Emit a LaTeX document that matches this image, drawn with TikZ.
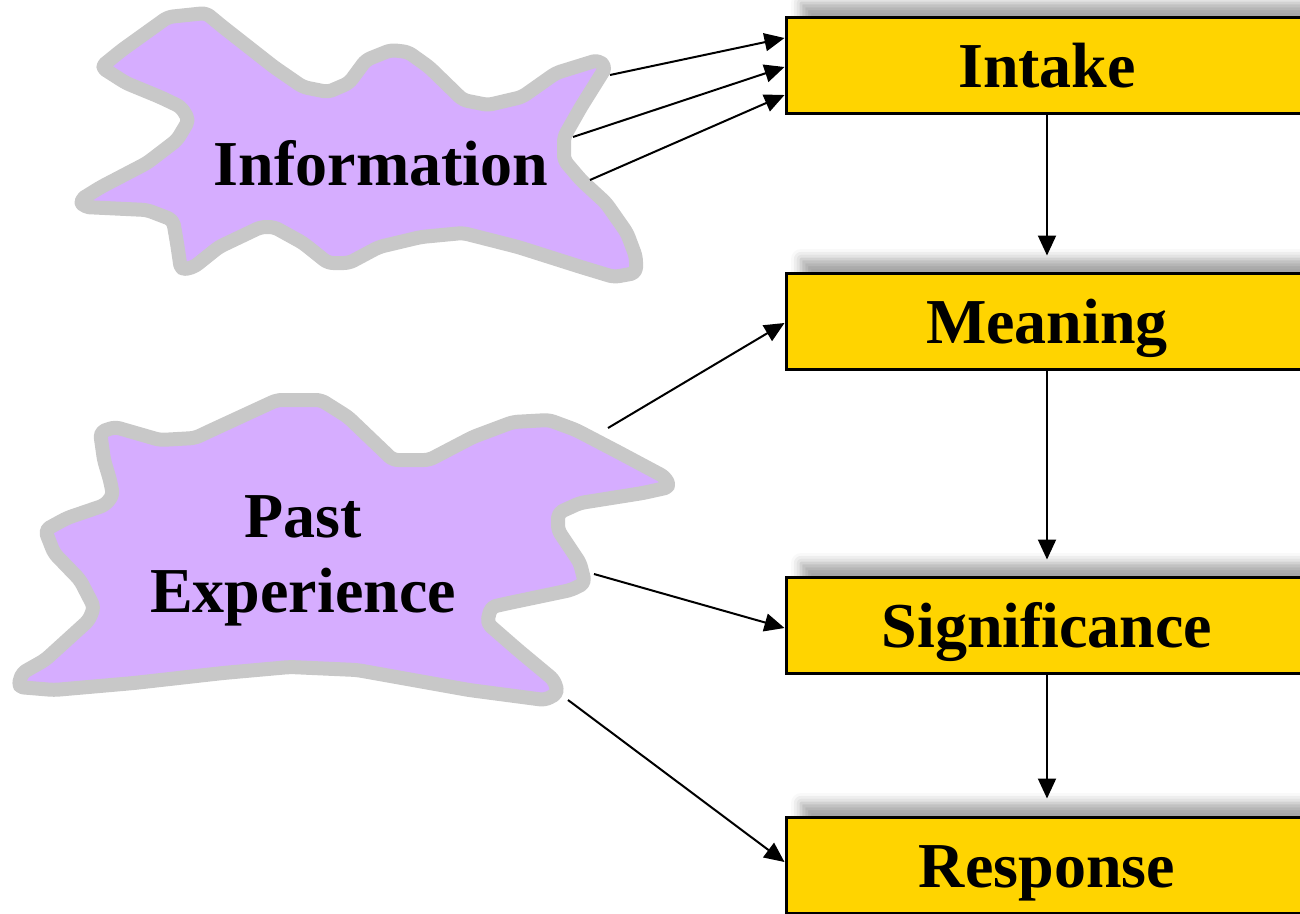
\documentclass[tikz,border=0pt]{standalone}
\usepackage{fontspec}
\setmainfont{Liberation Serif}
\usetikzlibrary{arrows.meta,shadows.blur}
\definecolor{cloudfill}{RGB}{214,173,255}
\definecolor{cloudline}{RGB}{200,200,200}
\definecolor{boxgold}{RGB}{255,212,0}
\tikzset{
  cloud/.style={fill=cloudfill, draw=cloudline, line width=14pt, line join=round, rounded corners=5pt},
  cloudtext/.style={font=\fontsize{64}{75}\selectfont\bfseries, align=center, inner sep=0pt},
  stagebox/.style={draw=black, line width=3pt, fill=boxgold, minimum width=522pt, minimum height=96pt,
    inner sep=0pt, text height=45pt, text depth=0pt, font=\fontsize{64}{75}\selectfont\bfseries,
    blur shadow={shadow xshift=15pt, shadow yshift=14pt, shadow blur radius=10pt, shadow opacity=35}},
  flow/.style={line width=2pt, -{Triangle[length=20pt,width=18pt]}}
}
\begin{document}
\begin{tikzpicture}[x=1pt, y=-1pt]
  \useasboundingbox (0,0) rectangle (1300,913);

  % the four stages
  \node[stagebox] (intake) at (1047,65) {Intake};
  \node[stagebox] (meaning) at (1047,321) {Meaning};
  \node[stagebox] (signif) at (1047,625) {Significance};
  \node[stagebox] (resp) at (1047,865) {Response};

  % information cloud
  \draw[cloud] (101,67) -- (122,50) -- (168,17) -- (206,13) -- (223,27) -- (274,67) -- (303,87)
    -- (328,92) -- (349,83) -- (366,60) -- (391,50) -- (408,52) -- (429,67) -- (463,100)
    -- (488,105) -- (522,97) -- (556,73) -- (598,60) -- (606,67) -- (581,107) -- (564,137)
    -- (564,160) -- (581,180) -- (606,203) -- (627,233) -- (636,257) -- (636,273) -- (614,277)
    -- (581,267) -- (518,247) -- (463,233) -- (421,237) -- (379,247) -- (349,263) -- (328,263)
    -- (303,243) -- (274,227) -- (261,227) -- (219,247) -- (194,267) -- (181,270) -- (177,243)
    -- (173,220) -- (147,210) -- (84,207) -- (80,200) -- (101,187) -- (147,163) -- (177,140)
    -- (189,120) -- (181,107) -- (160,97) -- (126,83) -- cycle;
  \node[cloudtext, anchor=base] (info) at (381,185) {Information};

  % past experience cloud
  \draw[cloud] (100,432) -- (115,427) -- (160,440) -- (195,438) -- (212,430) -- (277,400)
    -- (321,400) -- (348,417) -- (393,460) -- (429,460) -- (473,437) -- (513,422) -- (549,420)
    -- (576,430) -- (620,453) -- (665,477) -- (670,487) -- (643,493) -- (580,503) -- (558,513)
    -- (558,530) -- (580,563) -- (585,583) -- (571,590) -- (509,603) -- (491,607) -- (487,623)
    -- (518,650) -- (554,680) -- (558,693) -- (545,700) -- (469,690) -- (357,670) -- (290,667)
    -- (223,673) -- (134,683) -- (54,690) -- (18,687) -- (22,673) -- (45,660) -- (89,620)
    -- (94,607) -- (80,580) -- (54,553) -- (45,530) -- (67,518) -- (105,505) -- (113,495)
    -- (110,480) -- (104,460) -- cycle;
  \node[cloudtext] (past) at (303,561) {Past\\Experience};

  % arrow starts on the cloud edges
  \coordinate (infoA) at (610,75);
  \coordinate (infoB) at (573,137);
  \coordinate (infoC) at (590,180);
  \coordinate (pastA) at (608,428);
  \coordinate (pastB) at (594,574);
  \coordinate (pastC) at (568,700);

  % arrows
  \draw[flow] (infoA) -- ([yshift=27pt]intake.west);
  \draw[flow] (infoB) -- ([yshift=-2pt]intake.west);
  \draw[flow] (infoC) -- ([yshift=-30pt]intake.west);
  \draw[flow] (pastA) -- ([yshift=-2pt]meaning.west);
  \draw[flow] (pastB) -- ([yshift=-3pt]signif.west);
  \draw[flow] (pastC) -- ([yshift=3pt]resp.west);
  \draw[flow] (intake.south) -- ([yshift=16pt]meaning.north);
  \draw[flow] (meaning.south) -- ([yshift=16pt]signif.north);
  \draw[flow] (signif.south) -- ([yshift=17pt]resp.north);
\end{tikzpicture}
\end{document}
